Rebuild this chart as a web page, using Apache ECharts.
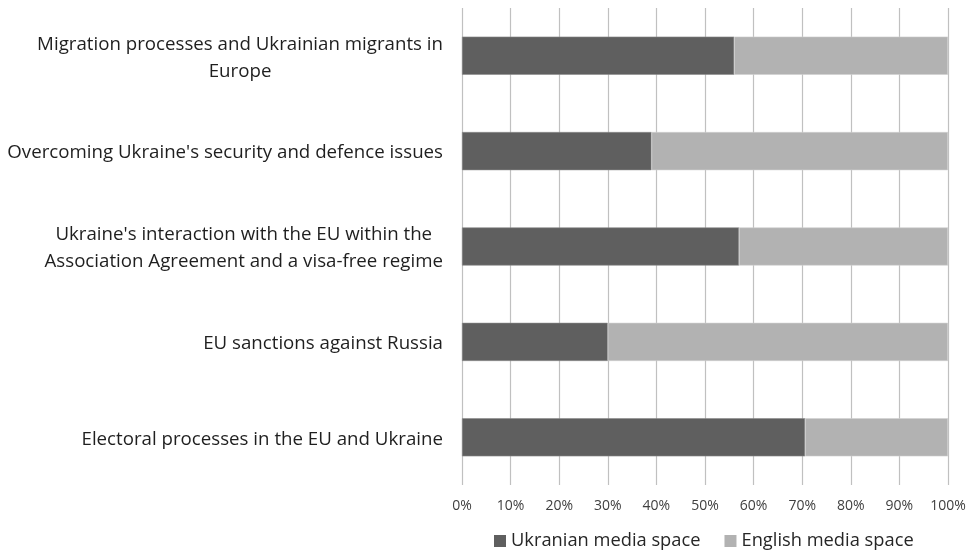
<!DOCTYPE html>
<html>
<head>
<meta charset="utf-8">
<style>
  html, body { margin: 0; padding: 0; background: #ffffff; }
  #chart { width: 970px; height: 551px; }
</style>
<script src="https://cdn.jsdelivr.net/npm/echarts@6/dist/echarts.min.js"></script>
</head>
<body>
<div id="chart"></div>
<script>
// Topics, top to bottom (line breaks as they wrap beside the axis)
const categories = [
  'Migration processes and Ukrainian migrants in\nEurope',
  "Overcoming Ukraine's security and defence issues",
  "Ukraine's interaction with the EU within the\nAssociation Agreement and a visa-free regime",
  'EU sanctions against Russia',
  'Electoral processes in the EU and Ukraine'
];

// Share of coverage, percent
const ukrainianShare = [56, 39, 57, 30, 70.6];
const englishShare = [44, 61, 43, 70, 29.4];

const seriesNames = ['Ukranian media space', 'English media space'];
const tickLabels = ['0%', '10%', '20%', '30%', '40%', '50%', '60%', '70%', '80%', '90%', '100%'];

const FONT = '"Open Sans", "DejaVu Sans", sans-serif';

const chart = echarts.init(document.getElementById('chart'), null, { renderer: 'canvas' });

chart.setOption({
  animation: false,
  backgroundColor: '#ffffff',
  textStyle: { fontFamily: FONT },
  grid: { left: 462, right: 22, top: 8, bottom: 66, containLabel: false },
  legend: {
    data: seriesNames,
    left: 494,
    top: 532,
    width: 640,
    padding: 0,
    itemWidth: 12,
    itemHeight: 12,
    itemGap: 24,
    icon: 'rect',
    itemStyle: { borderWidth: 0 },
    textStyle: { fontFamily: FONT, fontSize: 18.3, color: '#262626' }
  },
  xAxis: {
    type: 'value',
    min: 0,
    max: 100,
    interval: 10,
    axisLine: { show: false },
    axisTick: { show: false },
    splitLine: { show: true, lineStyle: { color: '#c0c0c0', width: 1.2 } },
    axisLabel: {
      margin: 14,
      fontFamily: FONT,
      fontSize: 14,
      color: '#404040',
      formatter: (v) => tickLabels[Math.round(v / 10)]
    }
  },
  yAxis: {
    type: 'category',
    data: categories,
    inverse: true,
    axisLine: { show: false },
    axisTick: { show: false },
    splitLine: { show: false },
    axisLabel: {
      margin: 19,
      align: 'right',
      padding: [4, 0, 0, 0],
      color: '#1f1f1f',
      fontFamily: FONT,
      fontSize: 18.7,
      lineHeight: 27,
      formatter: (v) => v.split('\n').map((line) => '{c|' + line + '}').join('\n'),
      rich: {
        c: { align: 'center', fontFamily: FONT, fontSize: 18.7, lineHeight: 27, color: '#1f1f1f' }
      }
    }
  },
  series: [
    {
      name: seriesNames[0],
      type: 'bar',
      stack: 'share',
      data: ukrainianShare,
      barWidth: '40%',
      itemStyle: { color: '#5f5f5f', borderColor: '#8c8c8c', borderWidth: 0.6 }
    },
    {
      name: seriesNames[1],
      type: 'bar',
      stack: 'share',
      data: englishShare,
      barWidth: '40%',
      itemStyle: { color: '#b2b2b2', borderColor: '#d0d0d0', borderWidth: 0.6 }
    }
  ]
});
</script>
</body>
</html>
